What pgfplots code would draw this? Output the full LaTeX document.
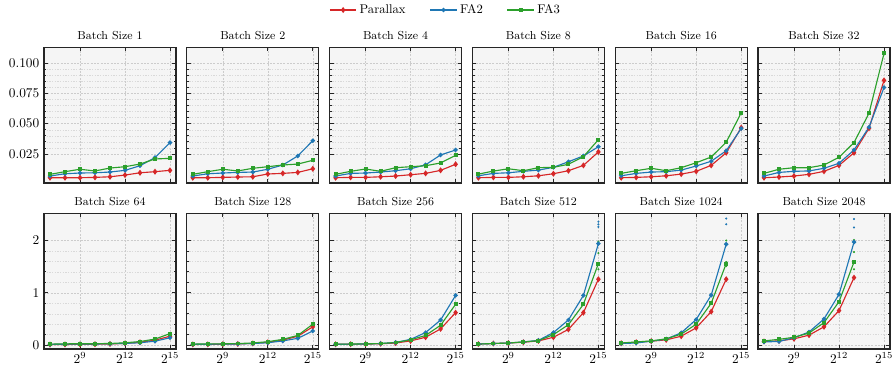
\documentclass[border=0pt]{standalone}
\usepackage{pgfplots}
\pgfplotsset{compat=1.18}
\definecolor{cred}{HTML}{D62728}
\definecolor{cblue}{HTML}{1F77B4}
\definecolor{cgreen}{HTML}{2CA02C}
\pgfplotsset{
 panel/.style={scale only axis, width=99pt, height=101.8pt, anchor=north west,
  xmin=6.6, xmax=15.4, xtick={9,12,15}, xticklabels={$2^{9}$,$2^{12}$,$2^{15}$},
  minor x tick num=0, minor y tick num=4, grid=both,
  major grid style={dash pattern=on 1.5pt off 1pt, gray!40, line width=0.35pt},
  minor grid style={dash pattern=on 1pt off 1pt, gray!30, line width=0.3pt},
  axis background/.style={fill=black!4},
  axis line style={black!85, line width=0.9pt},
  tick align=inside, xtick pos=both, ytick pos=both,
  major tick length=3pt, minor tick length=1.6pt,
  tick style={black!85, line width=0.6pt},
  title style={font=\fontsize{8.7}{10}\selectfont, yshift=-4pt},
  tick label style={font=\fontsize{10}{12}\selectfont},
  xticklabel style={yshift=1pt},
 },
 toprow/.style={ymin=0.001, ymax=0.113, ytick={0.025,0.05,0.075,0.1}, xticklabels={},
  yticklabel style={/pgf/number format/.cd, fixed, fixed zerofill, precision=3}},
 botrow/.style={ymin=-0.076, ymax=2.52, ytick={0,1,2}},
 noy/.style={yticklabels={}},
 pr/.style={cred, line width=0.85pt, mark=diamond*, mark size=1.6pt, mark options={solid}},
 fa2/.style={cblue, line width=0.85pt, mark=*, mark size=1.2pt},
 fa3/.style={cgreen, line width=0.85pt, mark=square*, mark size=1.05pt},
 sb/.style={only marks, cblue, mark=*, mark size=0.55pt, forget plot},
 sg/.style={only marks, cgreen, mark=*, mark size=0.55pt, forget plot},
}
\begin{document}
\begin{tikzpicture}
\path[use as bounding box] (0,0) rectangle (669.75pt,-276.75pt);
% ---------- top row ----------
\begin{axis}[panel, toprow, at={(33pt,-35.5pt)}, title={Batch Size 1},
 legend style={at={(3.045,1.275)}, anchor=center, draw=none, fill=none,
  font=\fontsize{9.5}{11}\selectfont, legend columns=3,
  /tikz/every even column/.append style={column sep=16pt}},
 legend image code/.code={\draw[mark repeat=2, mark phase=2] plot coordinates {(0pt,0pt)(10pt,0pt)(20pt,0pt)};}]
\addplot[pr] coordinates {(7,.0054)(8,.0054)(9,.0054)(10,.0057)(11,.0062)(12,.0076)(13,.0095)(14,.0104)(15,.0115)};
\addlegendentry{Parallax}
\addplot[fa2] coordinates {(7,.0068)(8,.0087)(9,.0093)(10,.0095)(11,.0101)(12,.0115)(13,.0153)(14,.0220)(15,.0344)};
\addlegendentry{FA2}
\addplot[fa3] coordinates {(7,.0082)(8,.0104)(9,.0124)(10,.0110)(11,.0134)(12,.0145)(13,.0167)(14,.0209)(15,.0214)};
\addlegendentry{FA3}
\end{axis}
\begin{axis}[panel, toprow, noy, at={(140.1pt,-35.5pt)}, title={Batch Size 2}]
\addplot[pr] coordinates {(7,.0054)(8,.0054)(9,.0057)(10,.0060)(11,.0062)(12,.0085)(13,.0090)(14,.0098)(15,.0128)};
\addplot[fa2] coordinates {(7,.0068)(8,.0087)(9,.0093)(10,.0098)(11,.0101)(12,.0124)(13,.0159)(14,.0234)(15,.0360)};
\addplot[fa3] coordinates {(7,.0082)(8,.0104)(9,.0124)(10,.0110)(11,.0132)(12,.0145)(13,.0159)(14,.0167)(15,.0198)};
\end{axis}
\begin{axis}[panel, toprow, noy, at={(247.2pt,-35.5pt)}, title={Batch Size 4}]
\addplot[pr] coordinates {(7,.0054)(8,.0057)(9,.0057)(10,.0062)(11,.0068)(12,.0079)(13,.0090)(14,.0115)(15,.0165)};
\addplot[fa2] coordinates {(7,.0068)(8,.0090)(9,.0093)(10,.0101)(11,.0112)(12,.0128)(13,.0161)(14,.0242)(15,.0283)};
\addplot[fa3] coordinates {(7,.0082)(8,.0107)(9,.0126)(10,.0107)(11,.0137)(12,.0145)(13,.0153)(14,.0176)(15,.0239)};
\end{axis}
\begin{axis}[panel, toprow, noy, at={(354.3pt,-35.5pt)}, title={Batch Size 8}]
\addplot[pr] coordinates {(7,.0054)(8,.0057)(9,.0057)(10,.0062)(11,.0070)(12,.0087)(13,.0112)(14,.0156)(15,.0267)};
\addplot[fa2] coordinates {(7,.0070)(8,.0090)(9,.0095)(10,.0107)(11,.0117)(12,.0140)(13,.0186)(14,.0234)(15,.0310)};
\addplot[fa3] coordinates {(7,.0084)(8,.0109)(9,.0128)(10,.0112)(11,.0137)(12,.0140)(13,.0165)(14,.0228)(15,.0368)};
\end{axis}
\begin{axis}[panel, toprow, noy, at={(461.4pt,-35.5pt)}, title={Batch Size 16}]
\addplot[pr] coordinates {(7,.0054)(8,.0057)(9,.0062)(10,.0070)(11,.0084)(12,.0107)(13,.0156)(14,.0260)(15,.0467)};
\addplot[fa2] coordinates {(7,.0070)(8,.0090)(9,.0101)(10,.0104)(11,.0117)(12,.0151)(13,.0190)(14,.0277)(15,.0460)};
\addplot[fa3] coordinates {(7,.0090)(8,.0112)(9,.0132)(10,.0112)(11,.0137)(12,.0178)(13,.0225)(14,.0347)(15,.0590)};
\end{axis}
\begin{axis}[panel, toprow, noy, at={(568.5pt,-35.5pt)}, title={Batch Size 32}]
\addplot[pr] coordinates {(7,.0054)(8,.0060)(9,.0068)(10,.0082)(11,.0107)(12,.0156)(13,.0260)(14,.0462)(15,.0857)};
\addplot[fa2] coordinates {(7,.0068)(8,.0098)(9,.0107)(10,.0110)(11,.0132)(12,.0173)(13,.0283)(14,.0470)(15,.0799)};
\addplot[fa3] coordinates {(7,.0090)(8,.0124)(9,.0137)(10,.0137)(11,.0159)(12,.0223)(13,.0344)(14,.0587)(15,.1080)};
\end{axis}
% ---------- bottom row ----------
\begin{axis}[panel, botrow, at={(33pt,-160pt)}, title={Batch Size 64}]
\addplot[pr] coordinates {(7,.011)(8,.012)(9,.014)(10,.017)(11,.022)(12,.032)(13,.054)(14,.094)(15,.17)};
\addplot[fa2] coordinates {(7,.014)(8,.018)(9,.020)(10,.021)(11,.025)(12,.033)(13,.045)(14,.075)(15,.14)};
\addplot[fa3] coordinates {(7,.018)(8,.024)(9,.026)(10,.027)(11,.031)(12,.044)(13,.068)(14,.115)(15,.22)};
\end{axis}
\begin{axis}[panel, botrow, noy, at={(140.1pt,-160pt)}, title={Batch Size 128}]
\addplot[pr] coordinates {(7,.012)(8,.014)(9,.017)(10,.022)(11,.032)(12,.054)(13,.094)(14,.17)(15,.35)};
\addplot[fa2] coordinates {(7,.015)(8,.017)(9,.019)(10,.023)(11,.030)(12,.045)(13,.08)(14,.13)(15,.27)};
\addplot[fa3] coordinates {(7,.019)(8,.022)(9,.025)(10,.030)(11,.040)(12,.065)(13,.11)(14,.185)(15,.40)};
\end{axis}
\begin{axis}[panel, botrow, noy, at={(247.2pt,-160pt)}, title={Batch Size 256}]
\addplot[pr] coordinates {(7,.015)(8,.017)(9,.020)(10,.025)(11,.04)(12,.08)(13,.15)(14,.31)(15,.62)};
\addplot[fa2] coordinates {(7,.016)(8,.018)(9,.022)(10,.03)(11,.05)(12,.11)(13,.24)(14,.48)(15,.95)};
\addplot[fa3] coordinates {(7,.018)(8,.02)(9,.024)(10,.03)(11,.05)(12,.10)(13,.185)(14,.38)(15,.78)};
\end{axis}
\begin{axis}[panel, botrow, noy, at={(354.3pt,-160pt)}, title={Batch Size 512}]
\addplot[sb] coordinates {(15,2.36)(15,2.31)(15,2.26)};
\addplot[sg] coordinates {(15,1.98)(15,1.76)(15,1.45)};
\addplot[pr] coordinates {(7,.02)(8,.03)(9,.04)(10,.055)(11,.08)(12,.15)(13,.30)(14,.62)(15,1.26)};
\addplot[fa2] coordinates {(7,.02)(8,.03)(9,.04)(10,.06)(11,.09)(12,.24)(13,.48)(14,.95)(15,1.94)};
\addplot[fa3] coordinates {(7,.02)(8,.03)(9,.04)(10,.06)(11,.085)(12,.20)(13,.39)(14,.78)(15,1.56)};
\end{axis}
\begin{axis}[panel, botrow, noy, at={(461.4pt,-160pt)}, title={Batch Size 1024}]
\addplot[sb] coordinates {(14,2.42)(14,2.31)};
\addplot[sg] coordinates {(14,2.0)(14,1.59)(14,1.51)};
\addplot[pr] coordinates {(7,.035)(8,.055)(9,.075)(10,.10)(11,.17)(12,.33)(13,.64)(14,1.26)};
\addplot[fa2] coordinates {(7,.03)(8,.04)(9,.075)(10,.115)(11,.235)(12,.49)(13,.955)(14,1.93)};
\addplot[fa3] coordinates {(7,.04)(8,.06)(9,.08)(10,.12)(11,.21)(12,.40)(13,.80)(14,1.56)};
\end{axis}
\begin{axis}[panel, botrow, noy, at={(568.5pt,-160pt)}, title={Batch Size 2048}]
\addplot[sb] coordinates {(13,2.41)(13,2.25)};
\addplot[sg] coordinates {(13,2.01)(13,1.78)(13,1.45)};
\addplot[pr] coordinates {(7,.07)(8,.08)(9,.12)(10,.19)(11,.35)(12,.66)(13,1.29)};
\addplot[fa2] coordinates {(7,.06)(8,.07)(9,.14)(10,.25)(11,.50)(12,.97)(13,1.97)};
\addplot[fa3] coordinates {(7,.08)(8,.11)(9,.15)(10,.23)(11,.43)(12,.83)(13,1.59)};
\end{axis}
\end{tikzpicture}
\end{document}
